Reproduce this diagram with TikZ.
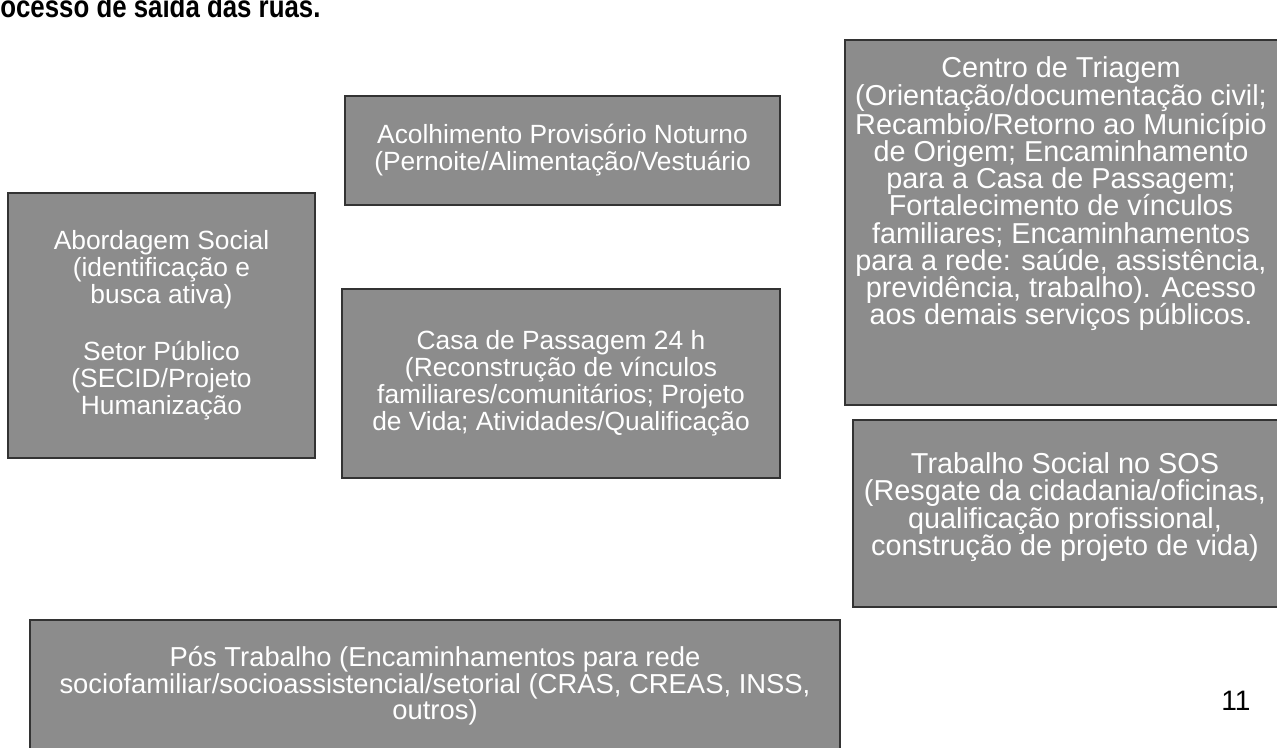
\documentclass[tikz,border=0pt]{standalone}
\usepackage{fontspec}
\setmainfont{Liberation Sans}
\usetikzlibrary{positioning}

\begin{document}
\begin{tikzpicture}[x=0.02cm, y=-0.02cm,
  every node/.style={font=\fontsize{15}{15.4}\selectfont},
  caixa/.style={draw=black!80, line width=1.1pt, fill=black!45, text=white, align=center, inner sep=0pt},
  texto/.style={text=white, align=center, inner sep=0pt},
  grande/.style={font=\fontsize{16.4}{15.5}\selectfont}]
  \useasboundingbox (0,0) rectangle (1277,747);
  \clip (0,0) rectangle (1277,747);

  % Titulo (cortado no alto da pagina)
  \node[anchor=base west, inner sep=0pt, font=\fontsize{14.7}{16}\selectfont\bfseries] (titulo) at (0,17)
    {\scalebox{1}[1.2]{ocesso de saída das ruas.}};

  % Coluna da esquerda
  \node[caixa, minimum width=6.14cm, minimum height=5.3cm] (abordagem) at (161.5,325.5)
    {Abordagem Social\\(identificação e\\busca ativa)\\[17pt]Setor Público\\(SECID/Projeto\\Humanização};

  % Coluna do meio
  \node[caixa, minimum width=8.7cm, minimum height=2.18cm] (acolhimento) at (562.5,150.5)
    {Acolhimento Provisório Noturno\\(Pernoite/Alimentação/Vestuário};
  \node[caixa, minimum width=8.76cm, minimum height=3.78cm] (casa) at (561,383.5)
    {Casa de Passagem 24 h\\(Reconstrução de vínculos\\familiares/comunitários; Projeto\\de Vida; Atividades/Qualificação};

  % Coluna da direita
  \node[caixa, minimum width=8.7cm, minimum height=7.3cm] (triagem) at (1062.5,222.5) {};
  \node[texto, grande] (triagemtxt) at (1061,194)
    {Centro de Triagem\\(Orientação/documentação civil;\\Recambio/Retorno ao Município\\de Origem; Encaminhamento\\para a Casa de Passagem;\\Fortalecimento de vínculos\\familiares; Encaminhamentos\\para a rede: saúde, assistência,\\previdência, trabalho). Acesso\\aos demais serviços públicos.};
  \node[caixa, minimum width=8.54cm, minimum height=3.74cm] (sos) at (1066.5,513.5) {};
  \node[texto, grande] (sostxt) at (1065,507)
    {Trabalho Social no SOS\\(Resgate da cidadania/oficinas,\\qualificação profissional,\\construção de projeto de vida)};

  % Faixa de baixo
  \node[caixa, minimum width=16.2cm, minimum height=2.64cm, font=\fontsize{15.6}{15.2}\selectfont] (pos) at (435,686)
    {Pós Trabalho (Encaminhamentos para rede\\sociofamiliar/socioassistencial/setorial (CRAS, CREAS, INSS,\\outros)};

  % Numero da pagina
  \node[anchor=base west, inner sep=0pt, font=\fontsize{16}{18}\selectfont] (pagina) at (1221,710) {11};
\end{tikzpicture}
\end{document}
